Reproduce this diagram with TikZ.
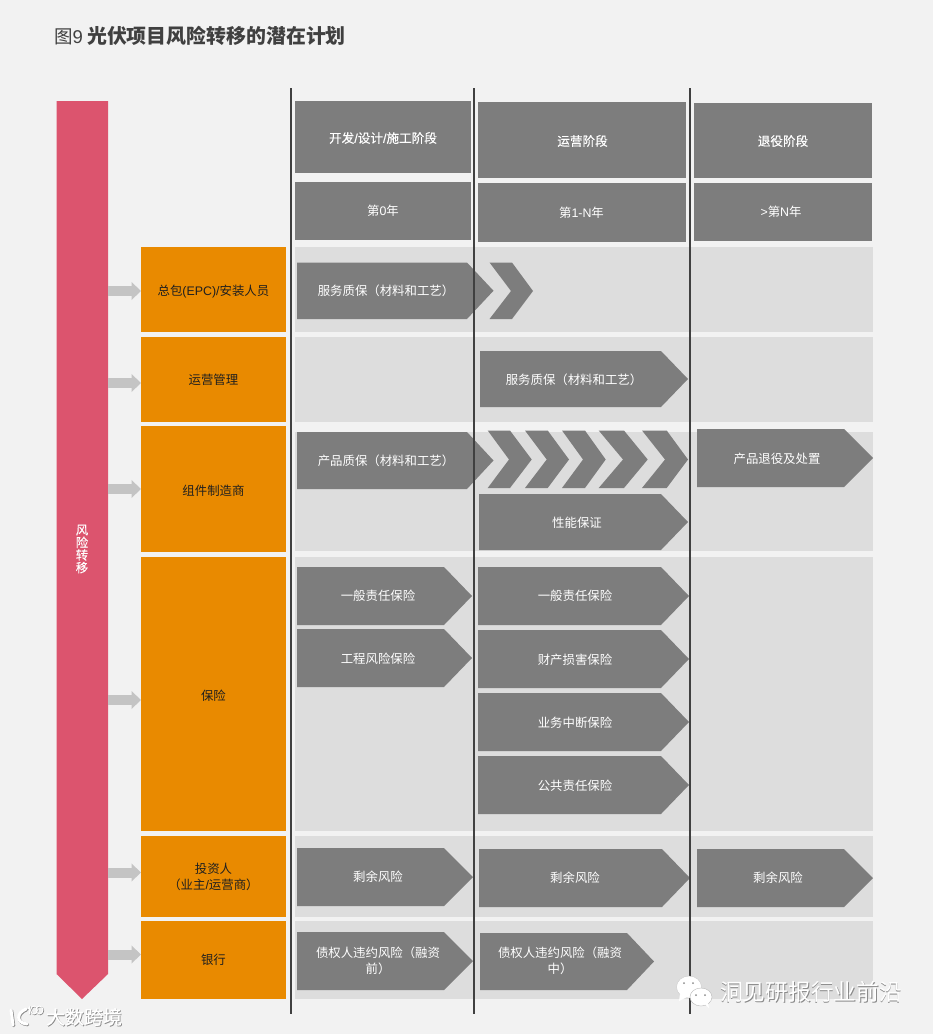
\documentclass[tikz,border=0pt]{standalone}
\usepackage{fontspec}
\setmainfont{Noto Sans CJK SC}
\newfontfamily\latinf{Liberation Sans}
\newfontfamily\semif[FakeBold=0.3]{Noto Sans CJK SC}
\newfontfamily\semilatin[FakeBold=0.3]{Liberation Sans}
\usetikzlibrary{arrows.meta}
\definecolor{pagebg}{HTML}{F2F2F2}
\definecolor{barpink}{HTML}{DC546E}
\definecolor{boxorange}{HTML}{E98A00}
\definecolor{rowgray}{HTML}{DDDDDD}
\definecolor{flowgray}{HTML}{7D7D7D}
\definecolor{linedark}{HTML}{404040}
\definecolor{linkgray}{HTML}{C4C4C4}
\definecolor{inkdark}{HTML}{1F1F1F}
\definecolor{markshadow}{HTML}{8A8A8A}
\newcommand{\ltn}[1]{{\latinf #1}}
\newcommand{\slt}[1]{{\semilatin #1}}
\newcommand{\flowshape}[5]{% x1 y1 x2 y2 shoulder
  \fill[flowgray] (#1,#2) -- (#5,#2) -- (#3,{(#2+#4)/2}) -- (#5,#4) -- (#1,#4) -- cycle;}
\newcommand{\chevshape}[7]{% left top tr tip bottom notch mid
  \fill[flowgray] (#1,#2) -- (#3,#2) -- (#4,#7) -- (#3,#5) -- (#1,#5) -- (#6,#7) -- cycle;}
\newcommand{\fillbox}[4]{\fill[flowgray] (#1,#2) rectangle (#3,#4);}
\newcommand{\logomark}{%
  \draw (11,1010) -- (13,1025);
  \draw (26,1009) .. controls (16,1013) and (16,1023) .. (27,1024);
  \draw[line width=1pt] (28,1009) -- (29.5,1007) -- (29.5,1014);
  \draw[line width=1pt] (34,1010) ellipse (3.4 and 4);
  \draw[line width=1pt] (39.5,1010) ellipse (3.4 and 4);}
\tikzset{
  body/.style={font=\fontsize{12.4}{15.5}\selectfont,align=center,inner sep=0pt},
  flowlabel/.style={body,text=white},
  headlabel/.style={body,text=white,font=\fontsize{12.6}{15.5}\selectfont\semif},
  ownerbox/.style={body,fill=boxorange,text=inkdark,anchor=north west,minimum width=144.5pt},
  linkarrow/.style={draw=linkgray,line width=10pt,-{Triangle[length=9.5pt,width=17.5pt]}},
  phaseline/.style={draw=linedark,line width=1.9pt},
  wmtext/.style={inner sep=0pt,text=white},
  wmshade/.style={inner sep=0pt,text=markshadow},
}
\begin{document}
\begin{tikzpicture}[x=1pt,y=-1pt]
\useasboundingbox (0,0) rectangle (933,1034);
\fill[pagebg] (0,0) rectangle (933,1034);

% title
\node[anchor=west,inner sep=0pt,text=linedark,font=\fontsize{18.5}{20}\selectfont] (title) at (54,36)
  {图{\latinf 9} \fontsize{19.9}{20}\selectfont\bfseries 光伏项目风险转移的潜在计划};

% risk transfer bar
\fill[barpink] (56.5,101) -- (108,101) -- (108,974) -- (82,999) -- (56.5,974) -- cycle;
\coordinate (barE) at (108,540);
\node[body,text=white,font=\fontsize{12.4}{12.6}\selectfont\semif] (barlabel) at (82,549) {风\\险\\转\\移};

% row bands
\fill[rowgray] (295,247) rectangle (873,332);
\fill[rowgray] (295,337) rectangle (873,421.5);
\fill[rowgray] (295,432) rectangle (873,551);
\fill[rowgray] (295,557) rectangle (873,831);
\fill[rowgray] (295,836) rectangle (873,917);
\fill[rowgray] (295,921) rectangle (873,999);

% owner boxes
\node[ownerbox,minimum height=85pt] (o1) at (141,247) {\rule{0pt}{14pt}总包\ltn{(EPC)/}安装人员};
\node[ownerbox,minimum height=84.5pt] (o2) at (141,337) {运营管理};
\node[ownerbox,minimum height=126pt] (o3) at (141,426) {\rule{0pt}{13pt}组件制造商};
\node[ownerbox,minimum height=274pt] (o4) at (141,557) {\rule{0pt}{13pt}保险};
\node[ownerbox,minimum height=81pt] (o5) at (141,836) {投资人\\（业主\ltn{/}运营商）};
\node[ownerbox,minimum height=78pt] (o6) at (141,921) {银行};

% links
\coordinate (y1) at (120,291);
\coordinate (y2) at (120,383);
\coordinate (y3) at (120,489);
\coordinate (y4) at (120,700);
\coordinate (y5) at (120,872.5);
\coordinate (y6) at (120,954.5);
\draw[linkarrow] (barE |- y1) -- (o1.west |- y1);
\draw[linkarrow] (barE |- y2) -- (o2.west |- y2);
\draw[linkarrow] (barE |- y3) -- (o3.west |- y3);
\draw[linkarrow] (barE |- y4) -- (o4.west |- y4);
\draw[linkarrow] (barE |- y5) -- (o5.west |- y5);
\draw[linkarrow] (barE |- y6) -- (o6.west |- y6);

% header boxes
\fillbox{295}{101}{471}{173}
\fillbox{478}{102}{686}{178}
\fillbox{694}{103}{872}{178}
\fillbox{295}{182}{471}{240}
\fillbox{478}{183}{686}{242}
\fillbox{694}{183}{872}{241}
\node[headlabel] (h1) at (383,138) {开发\slt{/}设计\slt{/}施工阶段};
\node[headlabel] (h2) at (582.5,141) {运营阶段};
\node[headlabel] (h3) at (783,141) {退役阶段};
\node[flowlabel] (s1) at (383,211) {第\ltn{0}年};
\node[flowlabel] (s2) at (581.5,213) {第\ltn{1-N}年};
\node[flowlabel] (s3) at (781,212) {\ltn{>}第\ltn{N}年};

% flow arrows
\flowshape{297}{262.5}{493.5}{319}{467}
\chevshape{489.5}{262.5}{512}{533}{319}{511}{291}
\flowshape{480}{351}{688}{407}{661}
\flowshape{297}{432}{493.5}{489}{467}
\chevshape{487.7}{430.5}{510}{531.7}{488}{509}{459.5}
\chevshape{525}{430.5}{547.7}{569}{488}{546.7}{459.5}
\chevshape{562}{430.5}{585}{605.7}{488}{583}{459.5}
\chevshape{598.7}{430.5}{624}{647.7}{488}{623}{459.5}
\chevshape{642}{430.5}{666.7}{688}{488}{665}{459.5}
\flowshape{479}{494}{688}{550}{661}
\flowshape{697}{429}{873}{487}{844}
\flowshape{297}{567}{472}{625}{444}
\flowshape{297}{629}{472}{687}{444}
\flowshape{478}{567}{689}{625}{661}
\flowshape{478}{630}{689}{688}{661}
\flowshape{478}{693}{689}{751}{661}
\flowshape{478}{756}{689}{814}{661}
\flowshape{297}{848}{473}{906}{444}
\flowshape{479}{849}{690}{907}{662}
\flowshape{697}{849}{873}{907}{844}
\flowshape{297}{932}{473}{990}{444}
\flowshape{480}{933}{654}{990}{627}

\node[flowlabel] (f1) at (386,291) {服务质保（材料和工艺）};
\node[flowlabel] (f2) at (574,380) {服务质保（材料和工艺）};
\node[flowlabel] (f3) at (386,461) {产品质保（材料和工艺）};
\node[flowlabel] (f4) at (577,523) {性能保证};
\node[flowlabel] (f5) at (777,459) {产品退役及处置};
\node[flowlabel] (f6) at (378,596) {一般责任保险};
\node[flowlabel] (f7) at (378,659) {工程风险保险};
\node[flowlabel] (f8) at (575,596) {一般责任保险};
\node[flowlabel] (f9) at (575,660) {财产损害保险};
\node[flowlabel] (f10) at (575,723) {业务中断保险};
\node[flowlabel] (f11) at (575,786) {公共责任保险};
\node[flowlabel] (f12) at (378,877) {剩余风险};
\node[flowlabel] (f13) at (575,878) {剩余风险};
\node[flowlabel] (f14) at (778,878) {剩余风险};
\node[flowlabel] (f15) at (378,961) {债权人违约风险（融资\\前）};
\node[flowlabel] (f16) at (560,961) {债权人违约风险（融资\\中）};

% phase lines
\coordinate (lt1) at (291,88); \coordinate (lb1) at (291,1014);
\coordinate (lt2) at (474,88); \coordinate (lb2) at (474,1014);
\coordinate (lt3) at (690,88); \coordinate (lb3) at (690,1014);
\draw[phaseline] (lt1) -- (lb1);
\draw[phaseline] (lt2) -- (lb2);
\draw[phaseline] (lt3) -- (lb3);

% watermark: left
\begin{scope}[draw=markshadow,line width=3.2pt,line cap=round,shift={(.7,.7)}]
  \logomark
\end{scope}
\begin{scope}[draw=white,line width=3pt,line cap=round]
  \logomark
\end{scope}
\node[wmshade,font=\fontsize{19}{20}\selectfont\semif] (m1s) at (84.8,1017.8) {大数跨境};
\node[wmtext,font=\fontsize{19}{20}\selectfont\semif] (m1) at (84,1017) {大数跨境};

% watermark: right
\fill[white,draw=markshadow!50,line width=.3pt] (689,987) ellipse (12.5 and 11);
\fill[white] (680,994) -- (679,1001) -- (687,997) -- cycle;
\fill[white,draw=markshadow!60,line width=.4pt] (701,997) ellipse (11 and 9);
\fill[white] (705,1004) -- (709,1008) -- (708,1003) -- cycle;
\foreach \ex/\ey in {684/983,693/983,696/995,705/995}
  \fill[markshadow] (\ex,\ey) circle (1);
\node[wmshade,font=\fontsize{22.7}{24}\selectfont] (m2s) at (811.7,992.7) {洞见研报行业前沿};
\node[wmtext,font=\fontsize{22.7}{24}\selectfont] (m2) at (811,992) {洞见研报行业前沿};
\end{tikzpicture}
\end{document}
